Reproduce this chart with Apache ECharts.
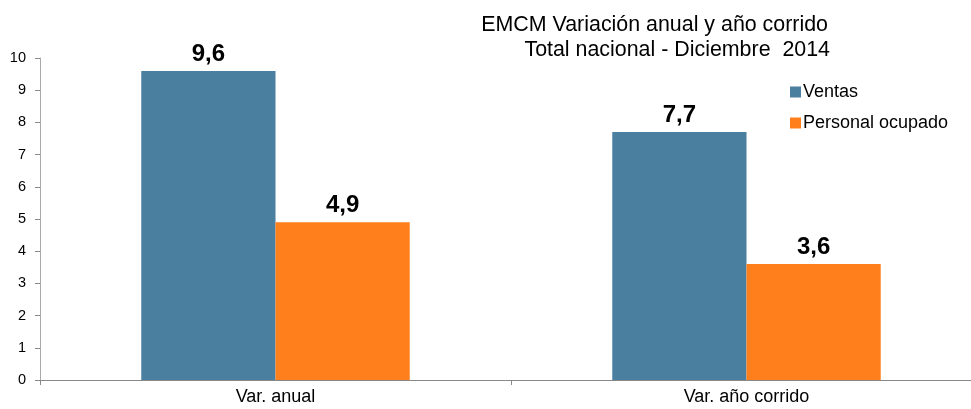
<!DOCTYPE html>
<html>
<head>
<meta charset="utf-8">
<script src="https://cdn.jsdelivr.net/npm/echarts@6/dist/echarts.min.js"></script>
<style>html,body{margin:0;padding:0;background:#fff}#c{width:971px;height:409px}</style>
</head>
<body>
<div id="c"></div>
<script>
var categories = ['Var. anual', 'Var. año corrido'];
var ventas = [9.6, 7.7];
var personal = [4.9, 3.6];
var titleLine1 = 'EMCM Variación anual y año corrido';
var titleLine2 = 'Total nacional - Diciembre  2014';

var chart = echarts.init(document.getElementById('c'), null, {renderer: 'canvas'});
var font = 'Liberation Sans, Arial, sans-serif';
var labelFmt = function (p) { return String(p.value.toFixed(1)).replace('.', ','); };
chart.setOption({
  animation: false,
  textStyle: {fontFamily: font},
  title: [
    {text: titleLine1, left: 823, top: 10, textAlign: 'right',
     textStyle: {fontFamily: font, fontSize: 21.4, fontWeight: 'normal', color: '#000'}},
    {text: titleLine2, left: 825, top: 35, textAlign: 'right',
     textStyle: {fontFamily: font, fontSize: 21.4, fontWeight: 'normal', color: '#000'}}
  ],
  legend: {
    orient: 'vertical', left: 785, top: 78, itemWidth: 11, itemHeight: 11, itemGap: 13,
    icon: 'rect',
    textStyle: {fontFamily: font, fontSize: 18, color: '#000', padding: [0, 0, 0, -3]},
    data: ['Ventas', 'Personal ocupado']
  },
  grid: {left: 40, width: 942, top: 58, bottom: 29, containLabel: false, outerBoundsMode: 'none'},
  xAxis: {
    type: 'category', data: categories,
    axisLine: {lineStyle: {color: '#888', width: 1}},
    axisTick: {show: true, length: 5, lineStyle: {color: '#888'}},
    axisLabel: {fontFamily: font, fontSize: 18, color: '#000', margin: 8}
  },
  yAxis: {
    type: 'value', min: 0, max: 10, interval: 1,
    axisLine: {show: true, lineStyle: {color: '#aaa', width: 1}},
    axisTick: {show: true, length: 5, lineStyle: {color: '#888'}},
    splitLine: {show: false},
    axisLabel: {fontFamily: font, fontSize: 14.5, color: '#000', margin: 14}
  },
  series: [
    {name: 'Ventas', type: 'bar', data: ventas, barGap: '0%', barCategoryGap: '43%',
     itemStyle: {color: '#4A7FA0'},
     label: {show: true, position: 'top', distance: 5, formatter: labelFmt,
             fontFamily: font, fontSize: 24, fontWeight: 'bold', color: '#000'}},
    {name: 'Personal ocupado', type: 'bar', data: personal, barGap: '0%', barCategoryGap: '43%',
     itemStyle: {color: '#FF7F1C'},
     label: {show: true, position: 'top', distance: 5, formatter: labelFmt,
             fontFamily: font, fontSize: 24, fontWeight: 'bold', color: '#000'}}
  ]
});
</script>
</body>
</html>
